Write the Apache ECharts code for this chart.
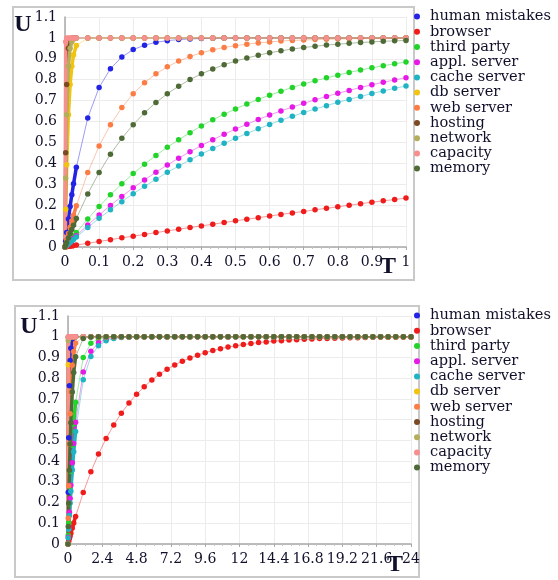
<!DOCTYPE html>
<html>
<head>
<meta charset="utf-8">
<script src="https://cdn.jsdelivr.net/npm/echarts@6/dist/echarts.min.js"></script>
<style>
  html, body { margin: 0; padding: 0; background: #fff; }
  #main { width: 558px; height: 580px; }
</style>
</head>
<body>
<div id="main"></div>
<script>
// series names and colours
var names = ["human mistakes", "browser", "third party", "appl. server", "cache server",
  "db server", "web server", "hosting", "network", "capacity", "memory"];
var colors = ["#2323e6", "#f01c1c", "#22d42a", "#e619e6", "#1fb3c4",
  "#f2c30f", "#fb7d45", "#7a4a24", "#b3ae5c", "#f78f8f", "#4e6a36"];

// ---- upper chart, T from 0 to 1 (first 8 points are the dense start) ----
var topT = [0, 0.002, 0.005, 0.01, 0.015, 0.02, 0.025, 0.0333, 0.0667, 0.1, 0.1333, 0.1667, 0.2, 0.2333,
  0.2667, 0.3, 0.3333, 0.3667, 0.4, 0.4333, 0.4667, 0.5, 0.5333, 0.5667, 0.6, 0.6333, 0.6667, 0.7,
  0.7333, 0.7667, 0.8, 0.8333, 0.8667, 0.9, 0.9333, 0.9667, 1];
var topHuman = [0, 0.028, 0.069, 0.134, 0.194, 0.25, 0.302, 0.381, 0.617, 0.763, 0.853, 0.909, 0.944,
  0.965, 0.979, 0.987, 0.992, 0.995, 0.997, 0.998, 0.999, 0.999,
  1, 1, 1, 1, 1, 1, 1, 1, 1, 1, 1, 1, 1, 1, 1];
var topBrowser = [0, 0.001, 0.001, 0.003, 0.004, 0.005, 0.007, 0.009, 0.018, 0.026, 0.035, 0.044, 0.052,
  0.06, 0.069, 0.077, 0.085, 0.093, 0.101, 0.109, 0.117, 0.125, 0.133, 0.14, 0.148, 0.156, 0.163, 0.17,
  0.178, 0.185, 0.192, 0.2, 0.207, 0.214, 0.221, 0.227, 0.234];
var topThird = [0, 0.004, 0.011, 0.021, 0.032, 0.042, 0.053, 0.069, 0.134, 0.194, 0.25, 0.302, 0.351,
  0.396, 0.438, 0.477, 0.513, 0.547, 0.579, 0.608, 0.635, 0.66, 0.684, 0.706, 0.726, 0.745, 0.763, 0.78,
  0.795, 0.809, 0.822, 0.835, 0.846, 0.857, 0.867, 0.876, 0.885];
var topAppl = [0, 0.003, 0.008, 0.016, 0.024, 0.033, 0.041, 0.054, 0.105, 0.153, 0.199, 0.242, 0.283,
  0.321, 0.358, 0.392, 0.425, 0.456, 0.485, 0.513, 0.539, 0.564, 0.587, 0.61, 0.631, 0.651, 0.669, 0.687,
  0.704, 0.72, 0.735, 0.749, 0.763, 0.776, 0.788, 0.799, 0.81];
var topCache = [0, 0.003, 0.007, 0.015, 0.022, 0.029, 0.036, 0.048, 0.093, 0.137, 0.178, 0.217, 0.255,
  0.29, 0.324, 0.357, 0.387, 0.417, 0.445, 0.471, 0.496, 0.52, 0.543, 0.565, 0.586, 0.606, 0.625, 0.643,
  0.66, 0.676, 0.692, 0.706, 0.72, 0.734, 0.746, 0.759, 0.77];
var topDb = [0, 0.181, 0.393, 0.632, 0.777, 0.865, 0.918, 0.964, 0.999,
  1, 1, 1, 1, 1, 1, 1, 1, 1, 1, 1, 1, 1, 1, 1, 1, 1, 1, 1, 1, 1, 1, 1, 1, 1, 1, 1, 1];
var topWeb = [0, 0.013, 0.032, 0.064, 0.094, 0.124, 0.152, 0.197, 0.356, 0.483, 0.585, 0.667, 0.733,
  0.786, 0.828, 0.862, 0.889, 0.911, 0.929, 0.943, 0.954, 0.963, 0.97, 0.976, 0.981, 0.985, 0.988, 0.99,
  0.992, 0.994, 0.995, 0.996, 0.997, 0.997, 0.998, 0.998, 0.999];
var topHosting = [0, 0.451, 0.777, 0.95, 0.989, 0.998, 0.999,
  1, 1, 1, 1, 1, 1, 1, 1, 1, 1, 1, 1, 1, 1, 1, 1, 1, 1, 1, 1, 1, 1, 1, 1, 1, 1, 1, 1, 1, 1];
var topNetwork = [0, 0.33, 0.632, 0.865, 0.95, 0.982, 0.993, 0.999,
  1, 1, 1, 1, 1, 1, 1, 1, 1, 1, 1, 1, 1, 1, 1, 1, 1, 1, 1, 1, 1, 1, 1, 1, 1, 1, 1, 1, 1];
var topCapacity = [0, 0.982,
  1, 1, 1, 1, 1, 1, 1, 1, 1, 1, 1, 1, 1, 1, 1, 1, 1, 1, 1, 1, 1, 1, 1, 1, 1, 1, 1, 1, 1, 1, 1, 1, 1, 1, 1];
var topMemory = [0, 0.009, 0.022, 0.043, 0.064, 0.084, 0.104, 0.136, 0.254, 0.356, 0.444, 0.52, 0.585,
  0.642, 0.691, 0.733, 0.769, 0.801, 0.828, 0.851, 0.872, 0.889, 0.904, 0.917, 0.929, 0.938, 0.947, 0.954,
  0.96, 0.966, 0.97, 0.974, 0.978, 0.981, 0.984, 0.986, 0.988];
var topTicks = { min: 0, max: 1, interval: 0.1 };

// ---- lower chart, T from 0 to 24 (first 9 points are the dense start) ----
var botT = [0, 0.02, 0.05, 0.1, 0.15, 0.2, 0.3, 0.4, 0.533, 1.067, 1.6, 2.133, 2.667, 3.2, 3.733, 4.267,
  4.8, 5.333, 5.867, 6.4, 6.933, 7.467, 8, 8.533, 9.067, 9.6, 10.133, 10.667, 11.2, 11.733, 12.267, 12.8,
  13.333, 13.867, 14.4, 14.933, 15.467, 16, 16.533, 17.067, 17.6, 18.133, 18.667, 19.2, 19.733, 20.267,
  20.8, 21.333, 21.867, 22.4, 22.933, 23.467, 24];
var botHuman = [0, 0.25, 0.513, 0.763, 0.885, 0.944, 0.987, 0.997,
  1, 1, 1, 1, 1, 1, 1, 1, 1, 1, 1, 1, 1, 1, 1, 1, 1, 1, 1, 1, 1, 1, 1, 1, 1, 1, 1, 1, 1, 1, 1, 1, 1, 1, 1, 1, 1,
  1, 1, 1, 1, 1, 1, 1, 1];
var botBrowser = [0, 0.005, 0.013, 0.026, 0.039, 0.052, 0.077, 0.101,
  0.133, 0.248, 0.348, 0.434, 0.509, 0.574, 0.631, 0.68, 0.722, 0.759, 0.791, 0.819, 0.843, 0.864, 0.882,
  0.897, 0.911, 0.923, 0.933, 0.942, 0.95, 0.956, 0.962, 0.967, 0.972, 0.975, 0.979, 0.981, 0.984, 0.986,
  0.988, 0.989, 0.991, 0.992, 0.993, 0.994, 0.995, 0.995, 0.996, 0.997, 0.997, 0.997, 0.998, 0.998, 0.998];
var botThird = [0, 0.042, 0.102, 0.194, 0.277, 0.351, 0.477, 0.579,
  0.684, 0.9, 0.968, 0.99, 0.997, 0.999,
  1, 1, 1, 1, 1, 1, 1, 1, 1, 1, 1, 1, 1, 1, 1, 1, 1, 1, 1, 1, 1, 1, 1, 1, 1, 1, 1, 1, 1, 1, 1, 1, 1, 1, 1];
var botAppl = [0, 0.033, 0.08, 0.153, 0.22, 0.283, 0.392, 0.485,
  0.587, 0.83, 0.93, 0.971, 0.988, 0.995, 0.998, 0.999,
  1, 1, 1, 1, 1, 1, 1, 1, 1, 1, 1, 1, 1, 1, 1, 1, 1, 1, 1, 1, 1, 1, 1, 1, 1, 1, 1, 1, 1, 1, 1, 1, 1];
var botCache = [0, 0.029, 0.071, 0.137, 0.198, 0.255, 0.357, 0.445,
  0.543, 0.792, 0.905, 0.957, 0.98, 0.991, 0.996, 0.998, 0.999,
  1, 1, 1, 1, 1, 1, 1, 1, 1, 1, 1, 1, 1, 1, 1, 1, 1, 1, 1, 1, 1, 1, 1, 1, 1, 1, 1, 1, 1, 1, 1, 1];
var botDb = [0, 0.865, 0.993, 1, 1, 1, 1, 1,
  1, 1, 1, 1, 1, 1, 1, 1, 1, 1, 1, 1, 1, 1, 1, 1, 1, 1, 1, 1, 1, 1, 1, 1, 1, 1, 1, 1, 1, 1, 1, 1, 1, 1, 1, 1, 1,
  1, 1, 1, 1, 1, 1, 1, 1];
var botWeb = [0, 0.124, 0.281, 0.483, 0.628, 0.733, 0.862, 0.929,
  0.97, 0.999,
  1, 1, 1, 1, 1, 1, 1, 1, 1, 1, 1, 1, 1, 1, 1, 1, 1, 1, 1, 1, 1, 1, 1, 1, 1, 1, 1, 1, 1, 1, 1, 1, 1, 1, 1,
  1, 1, 1, 1, 1, 1, 1, 1];
var botHosting = [0, 0.998, 1, 1, 1, 1, 1, 1,
  1, 1, 1, 1, 1, 1, 1, 1, 1, 1, 1, 1, 1, 1, 1, 1, 1, 1, 1, 1, 1, 1, 1, 1, 1, 1, 1, 1, 1, 1, 1, 1, 1, 1, 1, 1, 1,
  1, 1, 1, 1, 1, 1, 1, 1];
var botNetwork = [0, 0.982, 1, 1, 1, 1, 1, 1,
  1, 1, 1, 1, 1, 1, 1, 1, 1, 1, 1, 1, 1, 1, 1, 1, 1, 1, 1, 1, 1, 1, 1, 1, 1, 1, 1, 1, 1, 1, 1, 1, 1, 1, 1, 1, 1,
  1, 1, 1, 1, 1, 1, 1, 1];
var botCapacity = [0, 1, 1, 1, 1, 1, 1, 1,
  1, 1, 1, 1, 1, 1, 1, 1, 1, 1, 1, 1, 1, 1, 1, 1, 1, 1, 1, 1, 1, 1, 1, 1, 1, 1, 1, 1, 1, 1, 1, 1, 1, 1, 1, 1, 1,
  1, 1, 1, 1, 1, 1, 1, 1];
var botMemory = [0, 0.084, 0.197, 0.356, 0.483, 0.585, 0.733, 0.828,
  0.904, 0.991, 0.999,
  1, 1, 1, 1, 1, 1, 1, 1, 1, 1, 1, 1, 1, 1, 1, 1, 1, 1, 1, 1, 1, 1, 1, 1, 1, 1, 1, 1, 1, 1, 1, 1, 1, 1,
  1, 1, 1, 1, 1, 1, 1, 1];
var botTicks = { min: 0, max: 24, interval: 2.4 };

var uTicks = { min: 0, max: 1.1, interval: 0.1 };

var topValues = [topHuman, topBrowser, topThird, topAppl, topCache, topDb, topWeb,
  topHosting, topNetwork, topCapacity, topMemory];
var botValues = [botHuman, botBrowser, botThird, botAppl, botCache, botDb, botWeb,
  botHosting, botNetwork, botCapacity, botMemory];

var serifFont = "DejaVu Serif";

function makeSeries(tList, valueLists, nDense, idx) {
  var list = [];
  valueLists.forEach(function (vals, i) {
    var pts = tList.map(function (t, j) { return [t, vals[j]]; });
    // dotted curve with thin pale line
    list.push({
      name: names[i], type: "line", xAxisIndex: idx, yAxisIndex: idx,
      data: pts, symbol: "circle", symbolSize: 5.5, showSymbol: true,
      lineStyle: { width: 1, opacity: 0.45, color: colors[i] },
      itemStyle: { color: colors[i] },
      silent: true
    });
    // the densely sampled start looks like a thick stroke
    list.push({
      name: names[i], type: "line", xAxisIndex: idx, yAxisIndex: idx,
      data: pts.slice(0, nDense), showSymbol: false,
      lineStyle: { width: 3.5, color: colors[i] },
      itemStyle: { color: colors[i] },
      silent: true
    });
  });
  return list;
}

function xAxisOf(ticks, idx, digits) {
  return {
    type: "value", gridIndex: idx, min: ticks.min, max: ticks.max, interval: ticks.interval,
    axisLine: { show: true, lineStyle: { color: "#a8a8a8", width: 1.5 } },
    axisTick: { show: true, length: 3, lineStyle: { color: "#a8a8a8" } },
    minorTick: { show: true, splitNumber: 4, length: 2, lineStyle: { color: "#c4c4c4" } },
    splitLine: { show: true, lineStyle: { color: "#ececec" } },
    axisLabel: {
      margin: 8, fontFamily: serifFont, fontSize: 14, color: "#10102a",
      formatter: function (v) { return String(+v.toFixed(digits)); }
    }
  };
}

function yAxisOf(idx) {
  return {
    type: "value", gridIndex: idx, min: uTicks.min, max: uTicks.max, interval: uTicks.interval,
    axisLine: { show: true, lineStyle: { color: "#a8a8a8", width: 1.5 } },
    axisTick: { show: false },
    splitLine: { show: true, lineStyle: { color: "#ececec" } },
    axisLabel: {
      margin: 8, fontFamily: serifFont, fontSize: 14, color: "#10102a",
      formatter: function (v) { return String(+v.toFixed(2)); }
    }
  };
}

function legendOf(top) {
  return {
    data: names, orient: "vertical", left: 414, top: top,
    icon: "circle", itemWidth: 16, itemHeight: 6, itemGap: 0, padding: 0,
    selectedMode: false,
    textStyle: { fontFamily: serifFont, fontSize: 14.6, color: "#10102a", lineHeight: 15.2 }
  };
}

var chart = echarts.init(document.getElementById("main"));
var option = {
  animation: false,
  backgroundColor: "#fff",
  grid: [
    { left: 65, right: 152, top: 17, bottom: 333 },
    { left: 68, right: 147, top: 316, bottom: 36 }
  ],
  xAxis: [xAxisOf(topTicks, 0, 2), xAxisOf(botTicks, 1, 1)],
  yAxis: [yAxisOf(0), yAxisOf(1)],
  legend: [legendOf(9), legendOf(308)],
  graphic: [
    { type: "rect", shape: { x: 13, y: 7, width: 401, height: 273 },
      style: { fill: "none", stroke: "#c9c9c9", lineWidth: 2 } },
    { type: "rect", shape: { x: 15, y: 306, width: 404, height: 271 },
      style: { fill: "none", stroke: "#c9c9c9", lineWidth: 2 } },
    { type: "text", x: 23, y: 25, style: { text: "U", fill: "#10102a",
      font: "bold 24px 'Liberation Serif'", textAlign: "center", textVerticalAlign: "middle" } },
    { type: "text", x: 388, y: 267, style: { text: "T", fill: "#10102a",
      font: "bold 24px 'Liberation Serif'", textAlign: "center", textVerticalAlign: "middle" } },
    { type: "text", x: 29, y: 327, style: { text: "U", fill: "#10102a",
      font: "bold 24px 'Liberation Serif'", textAlign: "center", textVerticalAlign: "middle" } },
    { type: "text", x: 395, y: 565, style: { text: "T", fill: "#10102a",
      font: "bold 24px 'Liberation Serif'", textAlign: "center", textVerticalAlign: "middle" } }
  ],
  series: makeSeries(topT, topValues, 8, 0).concat(makeSeries(botT, botValues, 9, 1))
};
chart.setOption(option);
</script>
</body>
</html>
